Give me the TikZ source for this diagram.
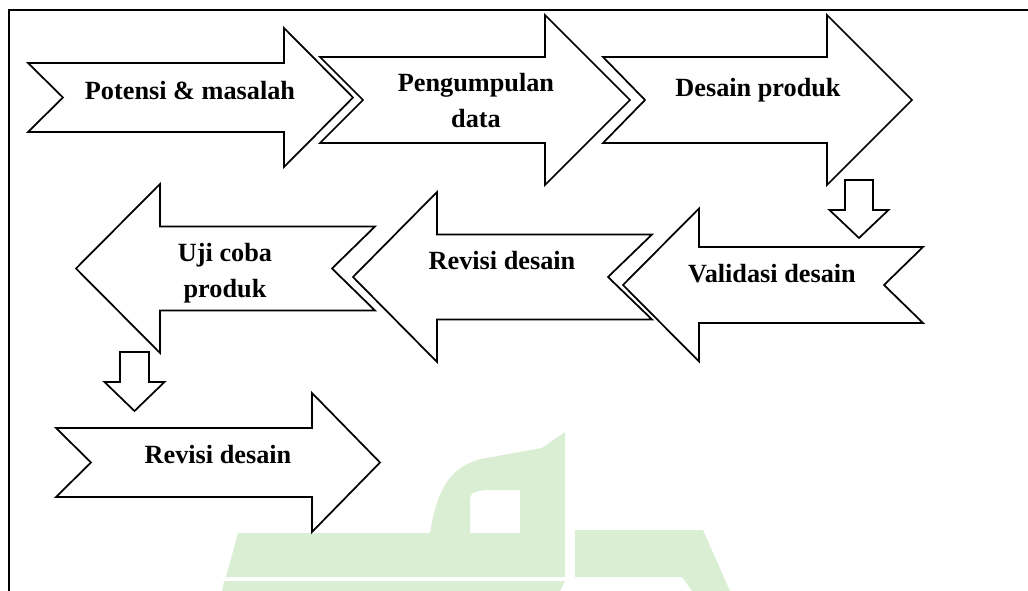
\documentclass[tikz,border=0pt]{standalone}
\usepackage{fontspec}
\setmainfont{Liberation Serif}
\usetikzlibrary{positioning}
\definecolor{ink}{HTML}{000000}
\definecolor{wmgreen}{HTML}{DAEED4}
\newcommand\stepfont{\fontsize{19.7}{27}\selectfont\bfseries}
\tikzset{
  blkarr/.style={draw=ink,fill=white,line width=1.3pt,line join=miter},
  frm/.style={draw=ink,line width=2pt},
  wm/.style={fill=wmgreen,draw=none},
  lab/.style={font=\stepfont,text=ink,align=center,inner sep=0pt},
}
\begin{document}
\begin{tikzpicture}[x=0.75pt,y=-0.75pt]
\useasboundingbox (0,0) rectangle (1028,591);
% faint watermark
\fill[wm,even odd rule] (238,533) -- (430,533) .. controls (438,482) and (455,462) .. (492,457) -- (542,448) -- (565,432) -- (565,577) -- (226,577) -- cycle
  (470,533) -- (470,506) .. controls (470,493) .. (484,490) -- (520,490) -- (520,533) -- cycle;
\fill[wm] (575,530) -- (703,530) -- (730,591) -- (692,591) -- (682,577) -- (575,577) -- cycle;
\fill[wm] (224,581) -- (565,581) -- (560,591) -- (222,591) -- cycle;
\draw[frm] (9,591) -- (9,10) -- (1028,10);
% block arrows: tail, notch, shaft end, tip, centre y, shaft half, head half
\foreach \xt/\xn/\xs/\xp/\yc/\hs/\hh in {
  28/63/284/353/97.5/34.5/69.5,
  320/363/545/630/100/43/85,
  603/645/827/912/100/43/85,
  923/884/699/623/285/38/76.5,
  652/608/437/353/277/42.5/85,
  375/332/160/76/268.5/42/84.5,
  56/91/312/380/462.5/34.5/69.5}
  {\draw[blkarr] (\xt,\yc-\hs) -- (\xs,\yc-\hs) -- (\xs,\yc-\hh) -- (\xp,\yc) -- (\xs,\yc+\hh) -- (\xs,\yc+\hs) -- (\xt,\yc+\hs) -- (\xn,\yc) -- cycle;}
% small down arrows
\foreach \xc/\yt/\yb/\yp/\ws/\wh in {859/180/210/238/14/29.5, 134.5/352/382/411/14.5/30}
  {\draw[blkarr] (\xc-\ws,\yt) -- (\xc+\ws,\yt) -- (\xc+\ws,\yb) -- (\xc+\wh,\yb) -- (\xc,\yp) -- (\xc-\wh,\yb) -- (\xc-\ws,\yb) -- cycle;}
\node[lab,anchor=base] (potensi) at (190,100) {Potensi \& masalah};
\node[lab] (kumpul) at (476,101) {Pengumpulan\\data};
\node[lab,anchor=base] (desain) at (758,97) {Desain produk};
\node[lab,anchor=base] (validasi) at (772,283) {Validasi desain};
\node[lab,anchor=base] (revisi1) at (502,270) {Revisi desain};
\node[lab] (ujicoba) at (225,273) {Uji coba\\produk};
\node[lab,anchor=base] (revisi2) at (218,464) {Revisi desain};
\end{tikzpicture}
\end{document}
